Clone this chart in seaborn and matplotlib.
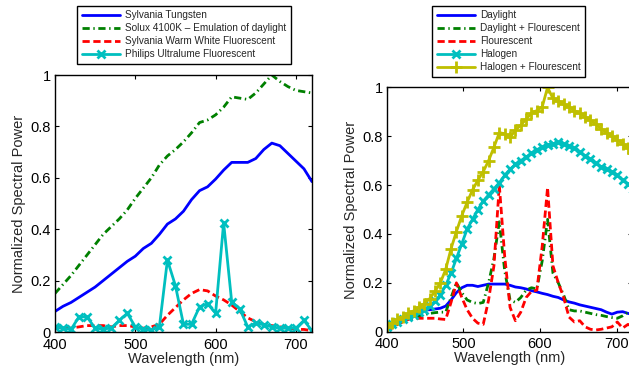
import numpy as np
import pandas as pd
import seaborn as sns
import matplotlib
matplotlib.use("Agg")
import matplotlib.pyplot as plt

# left panel: 10 nm sampling
wl_left = [400, 410, 420, 430, 440, 450, 460, 470, 480, 490, 500, 510, 520, 530, 540, 550, 560,
           570, 580, 590, 600, 610, 620, 630, 640, 650, 660, 670, 680, 690, 700, 710, 720]
tungsten = [0.08, 0.10, 0.115, 0.135, 0.155, 0.175, 0.20, 0.225, 0.25, 0.275, 0.295, 0.325, 0.345,
            0.38, 0.42, 0.44, 0.47, 0.515, 0.55, 0.565, 0.595, 0.63, 0.66, 0.66, 0.66, 0.675, 0.71,
            0.735, 0.725, 0.695, 0.665, 0.635, 0.585]
solux = [0.15, 0.185, 0.22, 0.26, 0.30, 0.34, 0.38, 0.41, 0.44, 0.475, 0.52, 0.56, 0.60, 0.65, 0.685,
         0.71, 0.74, 0.775, 0.815, 0.825, 0.845, 0.875, 0.915, 0.91, 0.905, 0.93, 0.965, 1.0, 0.975,
         0.955, 0.94, 0.935, 0.93]
warm_white = [0.02, 0.015, 0.015, 0.02, 0.025, 0.025, 0.025, 0.02, 0.025, 0.025, 0.02, 0.015, 0.02,
              0.03, 0.065, 0.095, 0.125, 0.15, 0.165, 0.16, 0.14, 0.125, 0.105, 0.08, 0.055, 0.04,
              0.03, 0.025, 0.02, 0.015, 0.01, 0.01, 0.005]
ultralume = [0.02, 0.015, 0.01, 0.06, 0.058, 0.015, 0.012, 0.015, 0.045, 0.073, 0.02, 0.01, 0.008,
             0.02, 0.28, 0.18, 0.03, 0.03, 0.098, 0.11, 0.073, 0.425, 0.118, 0.09, 0.02, 0.035, 0.028,
             0.02, 0.015, 0.015, 0.015, 0.045, 0.005]

# right panel: 7 nm sampling
wl_right = [400, 407, 414, 421, 428, 435, 442, 449, 456, 463, 470, 477, 484, 491, 498, 505, 512, 519,
            526, 533, 540, 547, 554, 561, 568, 575, 582, 589, 596, 603, 610, 617, 624, 631, 638, 645,
            652, 659, 666, 673, 680, 687, 694, 701, 708, 715, 722]
daylight = [0.01, 0.03, 0.045, 0.055, 0.07, 0.077, 0.083, 0.088, 0.09, 0.093, 0.096, 0.105, 0.13, 0.16,
            0.18, 0.19, 0.19, 0.185, 0.19, 0.195, 0.195, 0.195, 0.195, 0.19, 0.183, 0.18, 0.175, 0.168,
            0.163, 0.157, 0.152, 0.145, 0.14, 0.13, 0.122, 0.117, 0.11, 0.105, 0.1, 0.095, 0.09, 0.08,
            0.072, 0.08, 0.082, 0.075, 0.07]
day_fluor = [0.01, 0.02, 0.035, 0.045, 0.055, 0.06, 0.065, 0.07, 0.075, 0.078, 0.08, 0.08, 0.14, 0.20,
             0.16, 0.13, 0.12, 0.115, 0.12, 0.20, 0.30, 0.45, 0.25, 0.13, 0.12, 0.14, 0.17, 0.18, 0.175,
             0.29, 0.46, 0.24, 0.20, 0.15, 0.09, 0.085, 0.085, 0.08, 0.075, 0.07, 0.067, 0.062, 0.058,
             0.055, 0.065, 0.08, 0.07]
fluor = [0.005, 0.015, 0.03, 0.04, 0.05, 0.055, 0.055, 0.055, 0.055, 0.055, 0.052, 0.05, 0.12, 0.20,
         0.14, 0.09, 0.055, 0.035, 0.03, 0.13, 0.27, 0.60, 0.31, 0.10, 0.045, 0.08, 0.14, 0.165, 0.17,
         0.35, 0.59, 0.27, 0.20, 0.14, 0.06, 0.04, 0.045, 0.02, 0.01, 0.007, 0.01, 0.015, 0.02, 0.04,
         0.015, 0.03, 0.02]
halogen = [0.02, 0.03, 0.04, 0.05, 0.06, 0.07, 0.08, 0.09, 0.105, 0.125, 0.15, 0.19, 0.24, 0.30, 0.36,
           0.42, 0.46, 0.50, 0.535, 0.56, 0.585, 0.61, 0.64, 0.665, 0.685, 0.70, 0.715, 0.73, 0.745,
           0.755, 0.765, 0.77, 0.775, 0.77, 0.76, 0.75, 0.735, 0.72, 0.705, 0.69, 0.675, 0.665, 0.655,
           0.64, 0.62, 0.605, 0.585]
halogen_fluor = [0.02, 0.035, 0.05, 0.062, 0.075, 0.085, 0.10, 0.115, 0.135, 0.165, 0.20, 0.255, 0.34,
                 0.41, 0.475, 0.53, 0.58, 0.62, 0.655, 0.70, 0.755, 0.815, 0.81, 0.795, 0.825, 0.845,
                 0.87, 0.895, 0.905, 0.92, 1.0, 0.955, 0.945, 0.93, 0.92, 0.905, 0.895, 0.88, 0.865,
                 0.85, 0.83, 0.815, 0.80, 0.785, 0.77, 0.75, 0.73]

x_ticks = [400, 500, 600, 700]
y_ticks = [0, 0.2, 0.4, 0.6, 0.8, 1]
y_ticklabels = ["0", "0.2", "0.4", "0.6", "0.8", "1"]

sns.set_style("ticks")
plt.rcParams['font.family'] = ['Liberation Sans', 'DejaVu Sans']

BLUE = (0, 0, 1)
GREEN = (0, 0.5, 0)
RED = (1, 0, 0)
CYAN = (0, 0.75, 0.75)
YELLOW = (0.75, 0.75, 0)
DASH = (0, (2.6, 1.3))
DASHDOT = (0, (2.6, 1.3, 0.5, 1.3))

fig = plt.figure(figsize=(6.29, 3.73), dpi=100)
ax1 = fig.add_axes([0.0874, 0.1099, 0.4086, 0.689])
ax2 = fig.add_axes([0.6148, 0.1107, 0.3897, 0.655])

sns.lineplot(x=wl_left, y=tungsten, ax=ax1, color=BLUE, linewidth=2, label="Sylvania Tungsten")
sns.lineplot(x=wl_left, y=solux, ax=ax1, color=GREEN, linewidth=2, linestyle=DASHDOT,
             label="Solux 4100K \u2013 Emulation of daylight")
sns.lineplot(x=wl_left, y=warm_white, ax=ax1, color=RED, linewidth=2, linestyle=DASH,
             label="Sylvania Warm White Fluorescent")
sns.lineplot(x=wl_left, y=ultralume, ax=ax1, color=CYAN, linewidth=2, marker="x", markersize=6,
             markeredgewidth=2, markeredgecolor=CYAN, label="Philips Ultralume Fluorescent")

sns.lineplot(x=wl_right, y=daylight, ax=ax2, color=BLUE, linewidth=2, label="Daylight")
sns.lineplot(x=wl_right, y=day_fluor, ax=ax2, color=GREEN, linewidth=2, linestyle=DASHDOT,
             label="Daylight + Flourescent")
sns.lineplot(x=wl_right, y=fluor, ax=ax2, color=RED, linewidth=2, linestyle=DASH, label="Flourescent")
sns.lineplot(x=wl_right, y=halogen, ax=ax2, color=CYAN, linewidth=2, marker="x", markersize=6,
             markeredgewidth=2, markeredgecolor=CYAN, label="Halogen")
sns.lineplot(x=wl_right, y=halogen_fluor, ax=ax2, color=YELLOW, linewidth=2, marker="+", markersize=9,
             markeredgewidth=2, markeredgecolor=YELLOW, label="Halogen + Flourescent")

for ax in (ax1, ax2):
    ax.set_xlim(400, 720)
    ax.set_ylim(0, 1)
    ax.set_xticks(x_ticks)
    ax.set_xticklabels([str(t) for t in x_ticks])
    ax.set_yticks(y_ticks)
    ax.set_yticklabels(y_ticklabels)
    ax.tick_params(direction="in", top=True, right=True, length=3, width=0.8,
                   labelsize=10.5, pad=3, colors="black")
    ax.tick_params(axis="x", pad=4)
    for s in ax.spines.values():
        s.set_visible(True)
        s.set_linewidth(1)
        s.set_color("black")
    ax.set_xlabel("Wavelength (nm)", fontsize=10.5, labelpad=0)
    ax.set_ylabel("Normalized Spectral Power", fontsize=10.5, labelpad=3)
    ax.set_facecolor("white")

leg_kw = dict(bbox_transform=fig.transFigure, fontsize=7.2, frameon=True, fancybox=False,
              edgecolor="black", framealpha=1, handlelength=3.8, handletextpad=0.5,
              labelspacing=0.3, borderpad=0.45, borderaxespad=0)
leg1 = ax1.legend(loc="upper center", bbox_to_anchor=(0.2925, 0.984), **leg_kw)
leg2 = ax2.legend(loc="upper center", bbox_to_anchor=(0.809, 0.984), **leg_kw)
for leg in (leg1, leg2):
    leg.get_frame().set_linewidth(1)

fig.savefig("out.png", dpi=100)
